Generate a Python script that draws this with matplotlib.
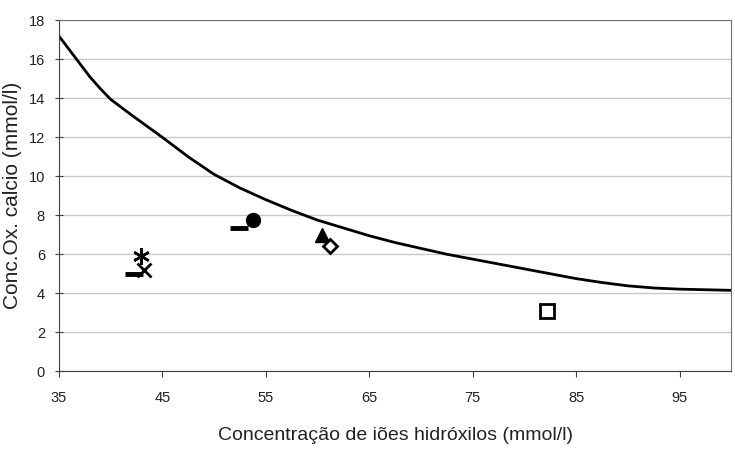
import matplotlib.pyplot as plt

plt.rcParams['font.family'] = ['Liberation Sans', 'DejaVu Sans']

# solubility curve
curve_x = [35, 36, 37, 38, 39, 40, 42, 45, 47.5, 50, 52.5, 55, 57.5, 60, 62.5, 65,
           67.5, 70, 72.5, 75, 77.5, 80, 82.5, 85, 87.5, 90, 92.5, 95, 97.5, 100]
curve_y = [17.2, 16.5, 15.8, 15.1, 14.5, 13.95, 13.15, 12.0, 11.0, 10.1, 9.4, 8.8,
           8.25, 7.75, 7.35, 6.95, 6.6, 6.3, 6.0, 5.75, 5.5, 5.25, 5.0, 4.75, 4.55,
           4.38, 4.27, 4.21, 4.18, 4.15]

# measured points
star_x, star_y = [42.9], [5.9]
cross_x, cross_y = [43.2], [5.2]
dash_x, dash_y = [42.3, 52.4], [5.0, 7.33]
circle_x, circle_y = [53.8], [7.74]
tri_x, tri_y = [60.4], [7.0]
diamond_x, diamond_y = [61.2], [6.4]
square_x, square_y = [82.2], [3.1]

fig, ax = plt.subplots(figsize=(7.35, 4.5), dpi=100)
fig.subplots_adjust(left=0.08, right=0.995, top=0.955, bottom=0.175)

ax.plot(curve_x, curve_y, color='black', linewidth=2)

ax.plot(star_x, star_y, linestyle='none', marker=(6, 2, 0), markersize=12,
        markeredgewidth=1.8, color='black')
ax.plot(cross_x, cross_y, linestyle='none', marker='x', markersize=10,
        markeredgewidth=2, color='black')
ax.plot(dash_x, dash_y, linestyle='none', marker='_', markersize=13,
        markeredgewidth=3.5, color='black')
ax.plot(circle_x, circle_y, linestyle='none', marker='o', markersize=10, color='black')
ax.plot(tri_x, tri_y, linestyle='none', marker='^', markersize=10, color='black')
ax.plot(diamond_x, diamond_y, linestyle='none', marker='D', markersize=7,
        markerfacecolor='white', markeredgecolor='black', markeredgewidth=2)
ax.plot(square_x, square_y, linestyle='none', marker='s', markersize=10,
        markerfacecolor='white', markeredgecolor='black', markeredgewidth=2)

ax.set_xlim(35, 100)
ax.set_ylim(0, 18)
ax.set_xticks([35, 45, 55, 65, 75, 85, 95])
ax.set_yticks(range(0, 19, 2))
ax.yaxis.grid(True, color='#c8c8c8', linewidth=1)
ax.set_axisbelow(True)

for side in ['top', 'right']:
    ax.spines[side].set_color('#707070')
for side in ['left', 'bottom']:
    ax.spines[side].set_color('#404040')
ax.tick_params(axis='both', labelsize=10.5, color='#404040', labelcolor='#222222')
ax.tick_params(axis='x', length=4, pad=10)
ax.tick_params(axis='y', direction='inout', length=6, pad=7)

ax.set_xlabel('Concentração de iões hidróxilos (mmol/l)', fontsize=14, labelpad=16,
              color='#222222')
ax.set_ylabel('Conc.Ox. calcio (mmol/l)', fontsize=15, color='#222222')
ax.yaxis.set_label_coords(-0.054, 0.5)

fig.savefig('out.png', dpi=100)
